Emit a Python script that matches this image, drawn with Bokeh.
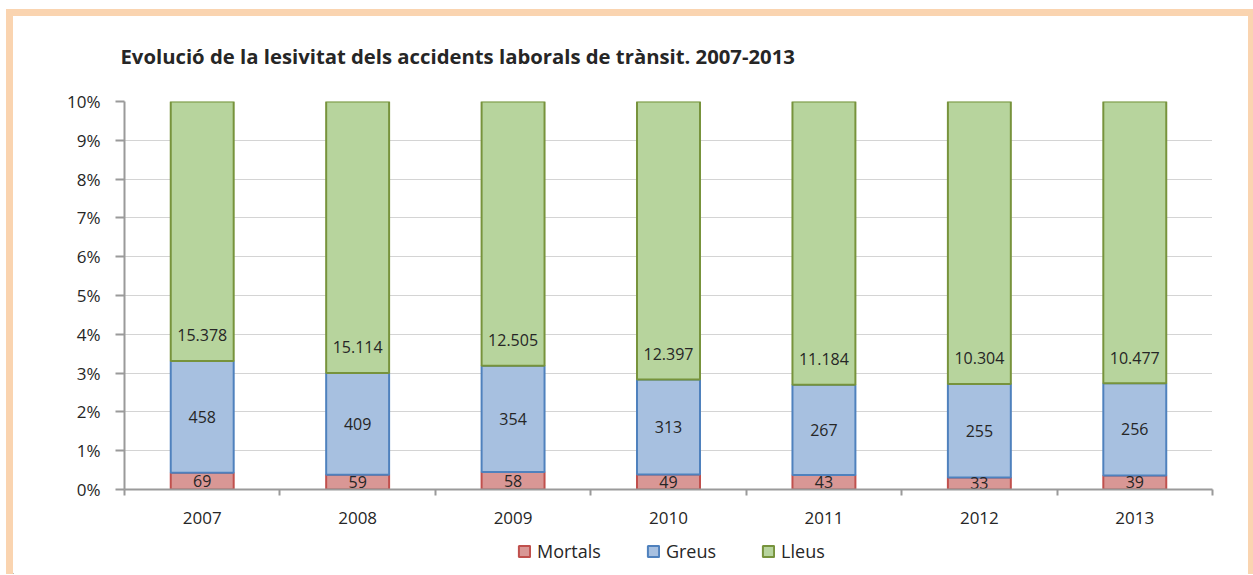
from bokeh.plotting import figure
from bokeh.layouts import column
from bokeh.models import (Range1d, FixedTicker, NumeralTickFormatter, ColumnDataSource, Legend,
                          LegendItem, Label)
from bokeh.core.properties import value
from bokeh.embed import file_html
from bokeh.resources import INLINE

years = ["2007", "2008", "2009", "2010", "2011", "2012", "2013"]
mortals = [69, 59, 58, 49, 43, 33, 39]
greus = [458, 409, 354, 313, 267, 255, 256]
lleus = [15378, 15114, 12505, 12397, 11184, 10304, 10477]
series_names = ["Mortals", "Greus", "Lleus"]
title_text = "Evolució de la lesivitat dels accidents laborals de trànsit. 2007-2013"
y_ticks = [i / 100 for i in range(0, 11)]

FONT = "Open Sans"
TXT = "#262626"
PEACH = "#FAD4B0"
FILLS = ["#D99795", "#A7C0E0", "#B7D49D"]
LINES = ["#C0504D", "#4F81BD", "#77933C"]
WIDTH = 1235

n = len(years)
xs = [i + 0.5 for i in range(n)]
tot = [a + b + c for a, b, c in zip(mortals, greus, lleus)]
m_top = [a / t for a, t in zip(mortals, tot)]
g_top = [(a + b) / t for a, b, t in zip(mortals, greus, tot)]
l_top = [1.0] * n

def fmt(v):
    return format(v, ",").replace(",", ".")

src = ColumnDataSource(dict(
    x=xs, zero=[0] * n, m_top=m_top, g_top=g_top, l_top=l_top,
    m_lab=[fmt(v) for v in mortals], g_lab=[fmt(v) for v in greus], l_lab=[fmt(v) for v in lleus],
    m_y=[v / 2 for v in m_top],
    g_y=[(a + b) / 2 for a, b in zip(m_top, g_top)],
    l_y=[v + 0.0066 for v in g_top],
))

def blank(h):
    f = figure(width=WIDTH, height=h, output_backend="svg", toolbar_location=None,
               x_range=Range1d(0, WIDTH), y_range=Range1d(0, h), x_axis_type=None, y_axis_type=None,
               min_border_left=0, min_border_right=0, min_border_top=0, min_border_bottom=0)
    f.outline_line_color = None
    f.background_fill_color = "white"
    f.border_fill_color = "white"
    f.frame_align = False
    return f

# ---- title strip
pt = blank(64)
pt.add_layout(Label(x=107, y=25, text=title_text, text_font=FONT, text_font_size="20.3px",
                    text_font_style="bold", text_color=TXT, text_baseline="middle", text_align="left"))

# ---- main chart
p = figure(width=WIDTH, height=456, output_backend="svg", toolbar_location=None,
           x_range=Range1d(0, n), y_range=Range1d(0, 0.10),
           min_border_left=111, min_border_right=36, min_border_top=21, min_border_bottom=47)
p.outline_line_color = None
p.background_fill_color = "white"
p.border_fill_color = "white"
p.frame_align = False

p.xgrid.grid_line_color = None
p.ygrid.ticker = FixedTicker(ticks=y_ticks)
p.ygrid.grid_line_color = "#A8A8A8"
p.ygrid.grid_line_dash = "1 1"
p.ygrid.grid_line_width = 1

AX = "#9A9A9A"
p.yaxis.ticker = FixedTicker(ticks=y_ticks)
p.yaxis.formatter = NumeralTickFormatter(format="0%")
p.yaxis.axis_line_color = AX
p.yaxis.axis_line_width = 2
p.yaxis.major_tick_line_color = AX
p.yaxis.major_tick_line_width = 2
p.yaxis.major_tick_out = 9
p.yaxis.major_tick_in = 0
p.yaxis.minor_tick_line_color = None
p.yaxis.major_label_standoff = 15
p.yaxis.major_label_text_font = FONT
p.yaxis.major_label_text_font_size = "17px"
p.yaxis.major_label_text_color = TXT

p.xaxis.ticker = FixedTicker(ticks=xs, minor_ticks=list(range(n + 1)))
p.xaxis.major_label_overrides = {x: y for x, y in zip(xs, years)}
p.xaxis.axis_line_color = AX
p.xaxis.axis_line_width = 2
p.xaxis.major_tick_line_color = None
p.xaxis.major_tick_out = 0
p.xaxis.major_tick_in = 0
p.xaxis.minor_tick_line_color = AX
p.xaxis.minor_tick_line_width = 2
p.xaxis.minor_tick_out = 6
p.xaxis.minor_tick_in = 0
p.xaxis.major_label_standoff = 16
p.xaxis.major_label_text_font = FONT
p.xaxis.major_label_text_font_size = "17px"
p.xaxis.major_label_text_color = TXT

W = 0.405
for (b, t), fc, lc in zip((("zero", "m_top"), ("m_top", "g_top"), ("g_top", "l_top")), FILLS, LINES):
    p.vbar(x="x", bottom=b, top=t, width=W, source=src, fill_color=fc, line_color=lc, line_width=2)

for col, ycol in (("m_lab", "m_y"), ("g_lab", "g_y"), ("l_lab", "l_y")):
    p.text(x="x", y=ycol, text=col, source=src, text_align="center", text_baseline="middle",
           text_font=value(FONT), text_font_size="16px", text_color=TXT)

# ---- legend strip
pl = blank(38)
items = []
for name, fc, lc in zip(series_names, FILLS, LINES):
    r = pl.vbar(x=[-500], top=[-500], bottom=[-501], width=1, fill_color=fc, line_color=lc, line_width=2)
    items.append(LegendItem(label=name, renderers=[r]))
legend = Legend(items=items, orientation="horizontal", location=(504, 11),
                glyph_width=14, glyph_height=14, label_standoff=6, spacing=45,
                padding=0, margin=0, border_line_color=None, background_fill_alpha=0,
                label_text_font=FONT, label_text_font_size="18px", label_text_color=TXT,
                label_height=20)
pl.add_layout(legend, "center")

sh = [(-7, 0), (0, -7), (-7, -7), (5, 0), (5, -7)]
lay = column(pt, p, pl, spacing=0)
lay.styles = {
    "position": "absolute", "left": "13px", "top": "16px", "background": "white",
    "box-shadow": ", ".join(f"{dx}px {dy}px 0 0 {PEACH}" for dx, dy in sh),
}

open("out.html", "w").write(file_html(lay, INLINE))
